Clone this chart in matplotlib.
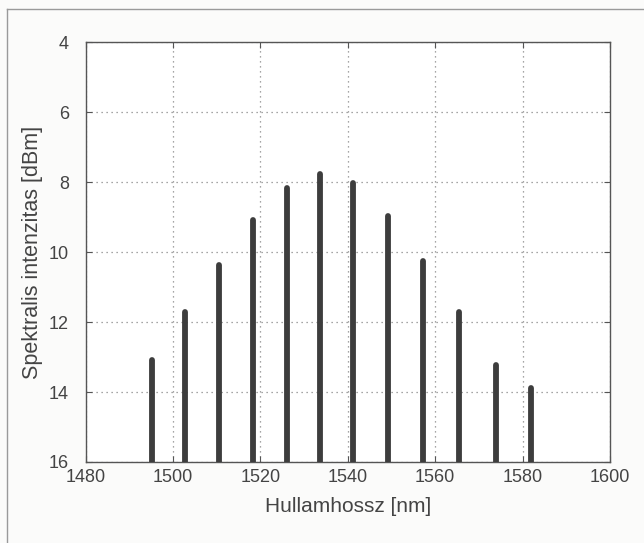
import matplotlib.pyplot as plt
from matplotlib.lines import Line2D

# wavelength of each spectral line [nm] and its level [dBm] (axis is inverted)
wavelengths = [1495.2, 1502.8, 1510.5, 1518.2, 1526.0, 1533.6,
               1541.2, 1549.2, 1557.2, 1565.4, 1573.9, 1582.0]
levels = [13.08, 11.70, 10.38, 9.08, 8.16, 7.77,
          8.02, 8.96, 10.25, 11.70, 13.23, 13.88]
xticks = [1480, 1500, 1520, 1540, 1560, 1580, 1600]
yticks = [4, 6, 8, 10, 12, 14, 16]

plt.rcParams['font.family'] = ['Liberation Sans', 'DejaVu Sans']

fig = plt.figure(figsize=(6.44, 5.43), dpi=100, facecolor='#fbfbfa')
ax = fig.add_axes([85.7 / 644, 1 - 462 / 543, (610 - 85.7) / 644, (462 - 42.3) / 543])
ax.set_facecolor('white')

# scanned page frame
fig.add_artist(Line2D([7 / 644, 7 / 644], [0, 1 - 9 / 543], color='#9a9a9a', lw=1.0))
fig.add_artist(Line2D([7 / 644, 1], [1 - 9 / 543, 1 - 9 / 543], color='#9a9a9a', lw=1.0))

ax.vlines(wavelengths, 16, levels, colors='#3d3d3d', linewidth=4.2, capstyle='round', zorder=3)

ax.set_xlim(1480, 1600)
ax.set_ylim(16, 4)
ax.set_xticks(xticks)
ax.set_yticks(yticks)
ax.grid(True, linestyle=(0, (1, 3)), color='#888888', linewidth=0.9)
ax.tick_params(direction='in', top=True, right=True, length=4, width=0.8,
               colors='#555555', labelcolor='#444444', labelsize=13)
ax.tick_params(axis='x', pad=5)
ax.tick_params(axis='y', pad=12)
for s in ax.spines.values():
    s.set_color('#555555')
    s.set_linewidth(1.0)

ax.set_xlabel('Hullamhossz [nm]', fontsize=15, color='#444444', labelpad=8)
ax.set_ylabel('Spektralis intenzitas [dBm]', fontsize=15.5, color='#444444', labelpad=4)

fig.savefig('out.png', dpi=100, facecolor=fig.get_facecolor())
